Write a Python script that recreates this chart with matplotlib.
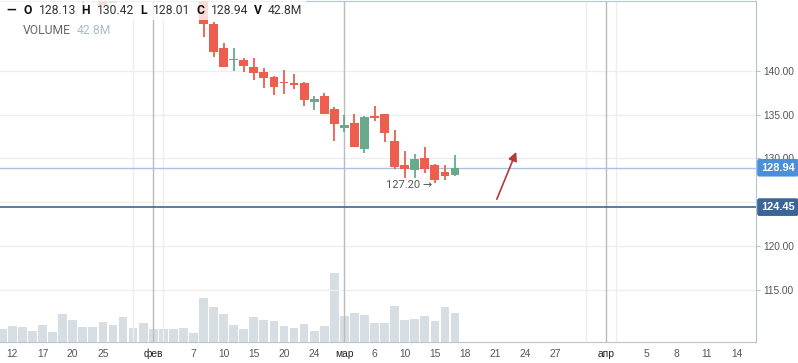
import matplotlib.pyplot as plt
from matplotlib.patches import Rectangle
from matplotlib.transforms import blended_transform_factory

plt.rcParams['font.family'] = ['Roboto', 'DejaVu Sans']

# trading-day slots (0 = 11 Jan); only candles that show inside the price window
slots = [8, 10, 11] + list(range(20, 46))
opens = [150.2, 150.0, 147.7,
         149.0, 145.32, 142.55, 141.20, 141.22, 140.42, 139.85, 139.28, 138.66, 138.60,
         138.60, 136.43, 137.12, 135.63, 133.47, 134.04, 131.10, 134.83, 135.06, 131.98,
         129.28, 128.71, 130.05, 129.28, 128.48, 128.13]
highs = [150.8, 150.5, 150.0,
         149.5, 145.52, 143.16, 142.55, 141.45, 141.45, 140.31, 139.40, 140.08, 139.62,
         138.75, 137.12, 137.46, 135.86, 134.95, 135.06, 134.83, 135.97, 135.06, 133.24,
         130.84, 130.50, 131.33, 129.39, 129.28, 130.42]
lows = [147.6, 147.5, 147.7,
        143.88, 141.60, 140.42, 140.00, 139.85, 138.94, 138.03, 137.23, 137.34, 137.91,
        135.97, 135.52, 135.06, 131.98, 133.04, 131.33, 130.62, 134.30, 131.90, 128.82,
        127.80, 127.80, 128.37, 127.20, 127.57, 128.01]
closes = [149.0, 147.5, 149.5,
          145.29, 142.17, 140.46, 141.26, 140.57, 139.77, 139.20, 138.18, 138.55, 138.37,
          136.66, 136.77, 135.06, 133.92, 133.80, 131.33, 134.72, 134.60, 132.93, 129.05,
          128.82, 129.93, 128.82, 127.57, 128.03, 128.94]

# volume in millions, slots 0..45
volumes = [19.2, 23.6, 22.1, 16.2, 25.1, 14.8, 41.3, 32.5, 22.1, 22.1,
           29.5, 25.1, 36.9, 20.7, 28.0, 19.2, 19.2, 19.2, 20.7, 13.3,
           64.9, 51.7, 41.3, 25.1, 19.2, 36.9, 32.5, 31.0, 23.6, 20.7,
           26.6, 16.2, 23.6, 101.8, 38.4, 42.8, 39.9, 28.0, 28.0, 53.1,
           32.5, 33.9, 38.4, 31.0, 51.7, 42.8]

level = 124.45
low_mark = 127.20
arrow_from = (49.05, 125.06)
arrow_to = (51.19, 131.04)

tick_pos = [1, 4, 7, 10, 15, 19, 22, 25, 28, 31, 34, 37, 40, 43, 46, 49, 52, 55, 60, 64, 67, 70, 73]
tick_lab = ['12', '17', '20', '25', 'фев', '7', '10', '15', '20', '24', 'мар', '6',
            '10', '15', '18', '21', '24', '27', 'апр', '5', '8', '11', '14']
month_pos = [15, 34, 60]
grid_pos = list(range(1, 74, 3))
price_ticks = [115, 120, 125, 130, 135, 140]
hidden_ticks = [125]  # label sits fully behind the level badge

red = '#ee5e4e'
green = '#6aa98c'
spine_c = '#b3c5d3'
W, H = 798, 363

fig = plt.figure(figsize=(W / 100, H / 100), dpi=100)
vax = fig.add_axes([0, 21 / H, 756 / W, 341 / H])
ax = vax.twinx()

# volume pane (bottom layer)
vax.bar(range(len(volumes)), volumes, width=0.87, color='#d6dde3', zorder=1)
vax.set_ylim(0, 503)
vax.set_xlim(-0.23, 74.92)
vax.set_xticks(grid_pos, minor=True)
vax.grid(True, which='minor', axis='x', color='#eeeeee', lw=1)
vax.set_xticks(tick_pos, tick_lab)
vax.tick_params(axis='x', which='both', length=0, pad=5, labelsize=7.4, labelcolor='#555555')
for lab in vax.get_xticklabels():
    lab.set_family(['Liberation Sans', 'DejaVu Sans'])
    if lab.get_text() in ('фев', 'мар', 'апр'):
        lab.set_color('#222222')
vax.set_yticks([])
for s in ('left', 'right', 'top'):
    vax.spines[s].set_visible(False)
vax.spines['bottom'].set_color(spine_c)

# price pane
ax.set_ylim(109.07, 147.95)
ax.set_yticks(price_ticks, ['' if p in hidden_ticks else f'{p:.2f}' for p in price_ticks])
ax.tick_params(axis='y', length=3, color=spine_c, pad=2, labelsize=7.3, labelcolor='#555555')
for lab in ax.get_yticklabels():
    lab.set_family(['Liberation Sans', 'DejaVu Sans'])
ax.grid(True, axis='y', color='#eeeeee', lw=1)
ax.set_axisbelow(True)
for s in ('left', 'bottom'):
    ax.spines[s].set_visible(False)
for s in ('right', 'top'):
    ax.spines[s].set_color(spine_c)

for m in month_pos:
    ax.axvline(m, color='#bbbbbb', lw=1, zorder=1)

# candles
for x, o, h, l, c in zip(slots, opens, highs, lows, closes):
    col = green if c >= o else red
    ax.vlines(x, l, h, color=col, lw=1.3, zorder=3)
    ax.bar(x, max(abs(c - o), 0.18), bottom=min(o, c), width=0.88, color=col, zorder=4)

ax.axhline(closes[-1], color='#a9c1e3', lw=1, zorder=2)
ax.axhline(level, color='#3f6591', lw=1.2, zorder=2)

ax.annotate(f'{low_mark:.2f} →', xy=(43, low_mark), xytext=(-2, -1.5), textcoords='offset points',
            ha='right', va='center', fontsize=8, color='#555555')
ax.annotate('', xy=arrow_to, xytext=arrow_from,
            arrowprops=dict(arrowstyle='-|>', color='#b23b3b', lw=1.2, mutation_scale=13))

tr = blended_transform_factory(ax.transAxes, ax.transData)
for val, fc in ((closes[-1], '#4a8fd9'), (level, '#3c6597')):
    ax.text(761 / 756, val, f'{val:.2f}', transform=tr, ha='left', va='center', color='white',
            fontsize=7.9, fontweight='bold', family=['Liberation Sans', 'DejaVu Sans'],
            clip_on=False, zorder=10,
            bbox=dict(boxstyle='round,pad=0.35,rounding_size=0.2', fc=fc, ec='none'))

# legend overlay
fig.add_artist(Rectangle((0, 1 - 20 / H), 306 / W, 20 / H, transform=fig.transFigure,
                         fc='white', ec='none', alpha=0.78, zorder=4))
fig.add_artist(Rectangle((0, 1 - 38 / H), 115 / W, 18 / H, transform=fig.transFigure,
                         fc='white', ec='none', alpha=0.78, zorder=4))

def ftext(px, py, s, **kw):
    fig.text(px / W, 1 - py / H, s, va='center', ha='left', zorder=6, **kw)

vol_txt = f'{volumes[-1]:.1f}M'
ftext(6, 10, '—', fontsize=9, fontweight='bold', color='#111111')
row = [(23, 'O', f'{opens[-1]:.2f}', 38.5), (81.5, 'H', f'{highs[-1]:.2f}', 96.5),
       (140, 'L', f'{lows[-1]:.2f}', 153), (196.5, 'C', f'{closes[-1]:.2f}', 211),
       (254, 'V', vol_txt, 268)]
for lx, letter, val, vx in row:
    ftext(lx, 10.5, letter, fontsize=8.7, fontweight='bold', color='#111111')
    ftext(vx, 10.5, val, fontsize=8.7, color='#333333')
ftext(23, 31, 'VOLUME', fontsize=8.7, color='#666666')
ftext(77, 31, vol_txt, fontsize=8.7, color='#a8bccd')

fig.savefig('out.png', dpi=100)
